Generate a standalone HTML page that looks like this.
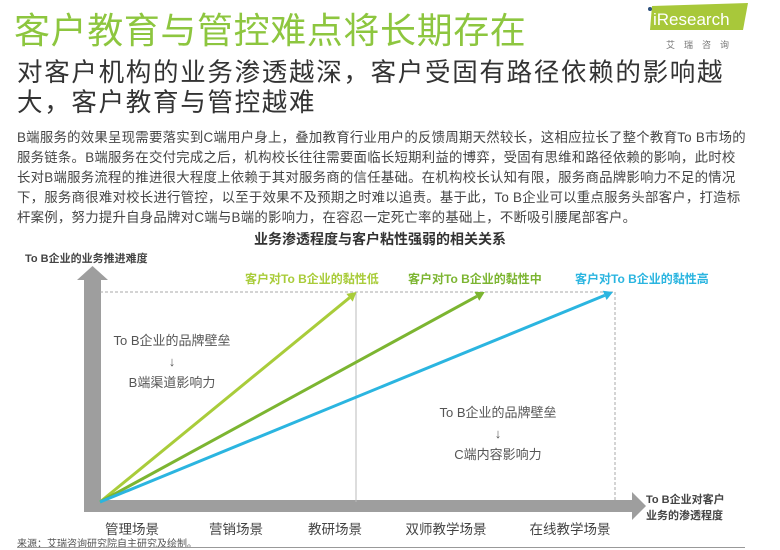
<!DOCTYPE html>
<html><head><meta charset="utf-8"><style>
body{margin:0;width:780px;height:549px;background:#fff;position:relative;overflow:hidden;font-family:"Liberation Sans","Noto Sans CJK SC",sans-serif}
.a{position:absolute;white-space:nowrap}
</style></head><body>
<div class="a" style="left:14px;top:2px;font-size:36px;color:#8dc63f;letter-spacing:0.6px">客户教育与管控难点将长期存在</div>
<svg class="a" style="left:640px;top:0" width="120" height="60">
<polygon points="12,6 108,3 103,30 10,30" fill="#a8c83a"/>
<circle cx="10" cy="9" r="2" fill="#2c4f7c"/>
<text x="13" y="25" font-size="17" fill="#fff" font-family="Liberation Sans, sans-serif">iResearch</text>
<text x="26" y="48" font-size="9" fill="#777" letter-spacing="9" font-family="Liberation Sans, Noto Sans CJK SC, sans-serif">艾瑞咨询</text>
</svg>
<div class="a" style="left:17px;top:58px;font-size:25.5px;line-height:30px;color:#333;letter-spacing:1.7px">对客户机构的业务渗透越深，客户受固有路径依赖的影响越<br>大，客户教育与管控越难</div>
<div class="a" style="left:17px;top:128px;font-size:13.4px;line-height:20px;color:#444;letter-spacing:0.25px">B端服务的效果呈现需要落实到C端用户身上，叠加教育行业用户的反馈周期天然较长，这相应拉长了整个教育To B市场的<br>服务链条。B端服务在交付完成之后，机构校长往往需要面临长短期利益的博弈，受固有思维和路径依赖的影响，此时校<br>长对B端服务流程的推进很大程度上依赖于其对服务商的信任基础。在机构校长认知有限，服务商品牌影响力不足的情况<br>下，服务商很难对校长进行管控，以至于效果不及预期之时难以追责。基于此，To B企业可以重点服务头部客户，打造标<br>杆案例，努力提升自身品牌对C端与B端的影响力，在容忍一定死亡率的基础上，不断吸引腰尾部客户。</div>
<div class="a" style="left:0;width:760px;text-align:center;top:229px;font-size:14px;font-weight:bold;color:#333">业务渗透程度与客户粘性强弱的相关关系</div>
<div class="a" style="left:25px;top:250px;font-size:11px;font-weight:bold;color:#444">To B企业的业务推进难度</div>
<svg class="a" id="chart" style="left:0;top:0" width="780" height="549">
<polygon points="84,512 84,280 77,280 92.5,266 108,280 101,280 101,500 101,512" fill="#9e9e9e"/>
<polygon points="84,500 632,500 632,492 646,506 632,520 632,512 84,512" fill="#9e9e9e"/>
<line x1="100" y1="292" x2="615" y2="292" stroke="#aaa" stroke-dasharray="3,2"/>
<line x1="356" y1="292" x2="356" y2="502" stroke="#bbb"/>
<line x1="615" y1="292" x2="615" y2="502" stroke="#aaa" stroke-dasharray="3,2"/>
<g id="lines"></g>
</svg>
<div class="a" style="left:92px;width:160px;text-align:center;top:330px;font-size:13px;line-height:21px;color:#555">To B企业的品牌壁垒<br>↓<br>B端渠道影响力</div>
<div class="a" style="left:418px;width:160px;text-align:center;top:402px;font-size:13px;line-height:21px;color:#555">To B企业的品牌壁垒<br>↓<br>C端内容影响力</div>
<div class="a" style="left:646px;top:492px;font-size:11px;line-height:16px;font-weight:bold;color:#444">To B企业对客户<br>业务的渗透程度</div>
<div id="xl"></div>
<div class="a" style="left:17px;top:535px;font-size:10px;color:#555">来源：艾瑞咨询研究院自主研究及绘制。</div>
<div class="a" style="left:17px;top:547px;width:728px;height:1px;background:#999"></div>
<script>
const categories=["管理场景","营销场景","教研场景","双师教学场景","在线教学场景"];
const catCenters=[0,1,2,3,4];
const seriesNames=["客户对To B企业的黏性低","客户对To B企业的黏性中","客户对To B企业的黏性高"];
const seriesEnd=[1.0,1.5,2.0];
const seriesColors=["#a9cc3a","#7cb531","#2bb5e0"];
const labelX=[245,408,575];
function xs(v){return 100+v*256.5;}
function cx(i){return [132,236,335,446,570][i];}
const ns="http://www.w3.org/2000/svg";
const g=document.getElementById('lines');
seriesEnd.forEach((e,i)=>{
  const x2=xs(e),y2=292,x1=100,y1=502;
  const dx=x2-x1,dy=y2-y1,L=Math.hypot(dx,dy),ux=dx/L,uy=dy/L;
  const bx=x2-ux*9,by=y2-uy*9;
  const ln=document.createElementNS(ns,'line');
  ln.setAttribute('x1',x1);ln.setAttribute('y1',y1);ln.setAttribute('x2',bx);ln.setAttribute('y2',by);
  ln.setAttribute('stroke',seriesColors[i]);ln.setAttribute('stroke-width','3');
  
  
  g.appendChild(ln);
  const p=document.createElementNS(ns,'polygon');
  p.setAttribute('points',`${x2},${y2} ${bx-uy*5},${by+ux*5} ${bx+uy*5},${by-ux*5}`);
  p.setAttribute('fill',seriesColors[i]);
  
  
  g.appendChild(p);
  const d=document.createElement('div');
  d.className='a';d.textContent=seriesNames[i];
  d.style.cssText=`left:${labelX[i]}px;top:270px;font-size:12px;font-weight:bold;color:${seriesColors[i]}`;
  
  
  document.body.appendChild(d);
});
const xl=document.getElementById('xl');
categories.forEach((c,i)=>{
  const d=document.createElement('div');
  d.className='a';d.textContent=c;
  d.style.cssText=`left:${cx(catCenters[i])-60}px;width:120px;text-align:center;top:518px;font-size:13.5px;color:#444`;
  
  
  xl.appendChild(d);
});
</script>
</body></html>
